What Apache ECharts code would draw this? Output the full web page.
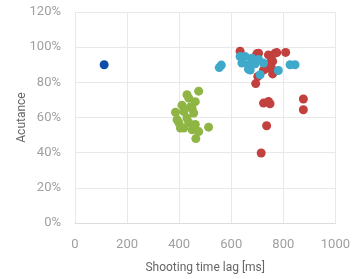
<!DOCTYPE html>
<html>
<head>
<meta charset="utf-8">
<script src="https://cdn.jsdelivr.net/npm/echarts@6/dist/echarts.min.js"></script>
<style>
html,body{margin:0;padding:0;background:#fff}
#chart{width:353px;height:279px}
</style>
</head>
<body>
<div id="chart"></div>
<script>
// [lag ms, acutance %]
var blueData = [[112, 90]]
var greenData = [
  [475, 75], [430, 73], [437, 71], [462, 69], [411, 67], [443, 66], [450, 65],
  [386, 63], [418, 63.4], [456, 62.5], [430, 59.7], [392, 58.7], [399, 57],
  [437, 57], [462, 56], [405, 54], [418, 54], [450, 53], [475, 52], [513, 54.5],
  [464, 48]
]
var redData = [
  [634, 97.7], [698, 96.2], [705, 96.6], [743, 95.6], [768, 96.6], [775, 96.9],
  [809, 97], [755, 92.8], [759, 91.9], [743, 90], [736, 88], [755, 88], [724, 87],
  [759, 84.8], [702, 83.3], [694, 79.3], [724, 68.2], [743, 69.1], [749, 67.8],
  [877, 70.5], [877, 64.4], [736, 55.3], [715, 39.8]
]
var cyanData = [
  [554, 88.4], [562, 89.8], [634, 94.7], [653, 94.7], [679, 93.7], [705, 93],
  [641, 91], [666, 90], [692, 90.5], [724, 91], [673, 87], [666, 87.5],
  [711, 84.3], [781, 86.7], [826, 90], [845, 90]
]
var xTicks = [0, 200, 400, 600, 800, 1000]
var yTicks = [0, 20, 40, 60, 80, 100, 120]

var chart = echarts.init(document.getElementById('chart'))
var labelStyle = {color: '#a0a0a0', fontSize: 13, fontFamily: 'Roboto'}
var gridLine = {show: true, lineStyle: {color: '#e8e8e8', width: 1}}

function ser(data, color) {
  return {
    type: 'scatter',
    data: data,
    symbolSize: 9,
    itemStyle: {color: color, opacity: 1},
    emphasis: {disabled: true}
  }
}

chart.setOption({
  animation: false,
  grid: {left: 75, right: 16, top: 12, bottom: 56},
  xAxis: {
    type: 'value',
    min: xTicks[0], max: xTicks[xTicks.length - 1], interval: 200,
    name: 'Shooting time lag [ms]',
    nameLocation: 'middle', nameGap: 39, nameMoveOverlap: false,
    nameTextStyle: {color: '#666', fontSize: 12, fontFamily: 'Roboto'},
    axisLine: {show: true, lineStyle: {color: '#dcdcdc'}},
    axisTick: {show: false},
    axisLabel: Object.assign({margin: 15, formatter: function (v) { return String(v) }}, labelStyle),
    splitLine: gridLine
  },
  yAxis: {
    type: 'value',
    min: yTicks[0], max: yTicks[yTicks.length - 1], interval: 20,
    name: 'Acutance',
    nameLocation: 'middle', nameGap: 47, nameMoveOverlap: false,
    nameTextStyle: {color: '#666', fontSize: 12, fontFamily: 'Roboto'},
    axisLine: {show: false},
    axisTick: {show: false},
    axisLabel: Object.assign({margin: 14, formatter: '{value}%'}, labelStyle),
    splitLine: gridLine
  },
  series: [
    ser(blueData, '#0d4ea6'),
    ser(greenData, '#8fb544'),
    ser(redData, '#c2403e'),
    ser(cyanData, '#3fa9ca')
  ]
})
</script>
</body>
</html>
